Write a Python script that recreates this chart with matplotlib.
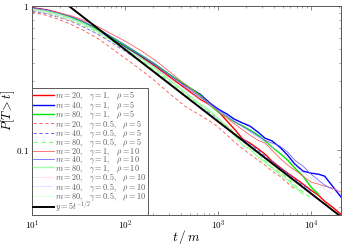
import matplotlib
matplotlib.use("Agg")
import matplotlib.pyplot as plt
from matplotlib.ticker import LogLocator, NullFormatter

matplotlib.rcParams.update({
    'mathtext.fontset': 'cm',
    'font.family': 'serif',
    'font.serif': ['cmr10', 'DejaVu Serif'],
    'axes.formatter.use_mathtext': True,
})

# ── data: survival P[T > t] ──
t_grid = [10, 14, 19, 26, 36, 50, 69, 100, 145, 210, 305, 440, 640, 820, 1000,
          1250, 1500, 1850, 2200, 2700, 3200, 3800, 4600, 5600, 6700, 8200,
          10000, 12000, 14000, 17000, 21000]

# gamma = 1, rho = 5
p_m20_g1_r5 = [0.976, 0.945, 0.901, 0.845, 0.774, 0.692, 0.609, 0.523, 0.450, 0.383,
               0.321, 0.270, 0.226, 0.206, 0.187, 0.159, 0.140, 0.119, 0.112, 0.102,
               0.0938, 0.0839, 0.0762, 0.0692, 0.0639, 0.0581, 0.0527, 0.0487,
               0.0442, 0.0402, 0.0359]
p_m40_g1_r5 = [0.968, 0.938, 0.894, 0.839, 0.768, 0.687, 0.609, 0.527, 0.457, 0.393,
               0.332, 0.283, 0.245, 0.212, 0.193, 0.178, 0.164, 0.154, 0.147, 0.133,
               0.121, 0.116, 0.105, 0.0923, 0.0799, 0.0715, 0.0692, 0.0681, 0.0660,
               0.0562, 0.0472]
p_m80_g1_r5 = [0.960, 0.931, 0.887, 0.839, 0.768, 0.692, 0.614, 0.532, 0.461, 0.396,
               0.332, 0.287, 0.241, 0.206, 0.184, 0.170, 0.157, 0.147, 0.138, 0.127,
               0.116, 0.105, 0.0953, 0.0852, 0.0750, 0.0660, 0.0554, 0.0495]
# gamma = 0.5, rho = 5
p_m20_g05_r5 = [0.908, 0.866, 0.812, 0.750, 0.676, 0.600, 0.519, 0.435, 0.365, 0.302,
                0.245, 0.202, 0.175, 0.159, 0.145, 0.127, 0.114, 0.102, 0.0938, 0.0852,
                0.0787, 0.0715, 0.0660, 0.0590, 0.0536]
p_m40_g05_r5 = [0.923, 0.887, 0.839, 0.787, 0.715, 0.644, 0.567, 0.487, 0.415, 0.348,
                0.287, 0.237, 0.199, 0.181, 0.164, 0.147, 0.131, 0.119, 0.110, 0.100,
                0.0908, 0.0839, 0.0762, 0.0692, 0.0629, 0.0572, 0.0519]
p_m80_g05_r5 = [0.938, 0.901, 0.852, 0.799, 0.732, 0.660, 0.581, 0.499, 0.425, 0.356,
                0.297, 0.245, 0.206, 0.184, 0.167, 0.147, 0.131, 0.117, 0.105, 0.0953,
                0.0839, 0.0762, 0.0703, 0.0639, 0.0572, 0.0511, 0.0464]
# gamma = 1, rho = 10
p_m20_g1_r10 = [0.968, 0.938, 0.901, 0.859, 0.799, 0.726, 0.649, 0.572, 0.495, 0.422,
                0.348, 0.287, 0.237, 0.209, 0.187, 0.167, 0.152, 0.138, 0.127, 0.117,
                0.112, 0.100, 0.0880, 0.0787, 0.0726, 0.0660, 0.0600, 0.0581, 0.0562,
                0.0545, 0.0511]
p_m40_g1_r10 = [0.968, 0.938, 0.894, 0.845, 0.780, 0.703, 0.624, 0.540, 0.464, 0.396,
                0.332, 0.278, 0.234, 0.209, 0.190, 0.172, 0.159, 0.145, 0.136, 0.125,
                0.117, 0.112, 0.107, 0.0968, 0.0852, 0.0774, 0.0681, 0.0619, 0.0572,
                0.0536]
p_m80_g1_r10 = [0.953, 0.923, 0.880, 0.825, 0.756, 0.676, 0.595, 0.511, 0.439, 0.371,
                0.306, 0.253, 0.209, 0.187, 0.167, 0.145, 0.127, 0.108, 0.102, 0.0894,
                0.0825, 0.0750, 0.0681, 0.0619, 0.0554, 0.0495]
# gamma = 0.5, rho = 10
p_m20_g05_r10 = [0.931, 0.894, 0.845, 0.787, 0.715, 0.639, 0.562, 0.479, 0.409, 0.343,
                 0.283, 0.234, 0.196, 0.178, 0.162, 0.145, 0.129, 0.117, 0.107, 0.0968,
                 0.0880, 0.0799, 0.0726, 0.0660, 0.0600, 0.0545, 0.0495, 0.0457, 0.0422]
p_m40_g05_r10 = [0.945, 0.908, 0.866, 0.812, 0.744, 0.670, 0.590, 0.511, 0.442, 0.377,
                 0.316, 0.265, 0.226, 0.206, 0.187, 0.170, 0.157, 0.145, 0.133, 0.123,
                 0.114, 0.105, 0.0968, 0.0880, 0.0787, 0.0703, 0.0639, 0.0590, 0.0536,
                 0.0495]
p_m80_g05_r10 = [0.945, 0.908, 0.859, 0.806, 0.738, 0.660, 0.581, 0.495, 0.422, 0.354,
                 0.292, 0.241, 0.202, 0.181, 0.164, 0.145, 0.129, 0.116, 0.105, 0.0953,
                 0.0866, 0.0787, 0.0715, 0.0649, 0.0590]

# reference power law y = 5 t^{-1/2}
fit_t = [10, 21000]
fit_y = [1.581, 0.0345]

sp = r'\;\;\;'
series = [
    (p_m20_g1_r5, '$m=20,' + sp + r'\gamma=1,' + sp + r'\rho=5$', '#ff0000', '-', 1.0),
    (p_m40_g1_r5, '$m=40,' + sp + r'\gamma=1,' + sp + r'\rho=5$', '#0000ff', '-', 1.0),
    (p_m80_g1_r5, '$m=80,' + sp + r'\gamma=1,' + sp + r'\rho=5$', '#00e600', '-', 1.0),
    (p_m20_g05_r5, '$m=20,' + sp + r'\gamma=0.5,' + sp + r'\rho=5$', '#ff5050', (0, (4, 3)), 0.6),
    (p_m40_g05_r5, '$m=40,' + sp + r'\gamma=0.5,' + sp + r'\rho=5$', '#5050ff', (0, (4, 3)), 0.6),
    (p_m80_g05_r5, '$m=80,' + sp + r'\gamma=0.5,' + sp + r'\rho=5$', '#70ff70', (0, (4, 3)), 0.8),
    (p_m20_g1_r10, '$m=20,' + sp + r'\gamma=1,' + sp + r'\rho=10$', '#ff6060', '-', 0.6),
    (p_m40_g1_r10, '$m=40,' + sp + r'\gamma=1,' + sp + r'\rho=10$', '#6a6aff', '-', 0.6),
    (p_m80_g1_r10, '$m=80,' + sp + r'\gamma=1,' + sp + r'\rho=10$', '#a0ffa0', '-', 1.0),
    (p_m20_g05_r10, '$m=20,' + sp + r'\gamma=0.5,' + sp + r'\rho=10$', '#ffb0c8', (0, (1, 1.5)), 0.6),
    (p_m40_g05_r10, '$m=40,' + sp + r'\gamma=0.5,' + sp + r'\rho=10$', '#b8b0ff', (0, (1, 1.5)), 0.6),
    (p_m80_g05_r10, '$m=80,' + sp + r'\gamma=0.5,' + sp + r'\rho=10$', '#b8ffb8', (0, (1, 1.5)), 0.6),
]

fig = plt.figure(figsize=(3.48, 2.45), dpi=100)
ax = fig.add_axes([0.092, 0.122, 0.888, 0.853])

for y, lab, col, ls, lw in series:
    ax.plot(t_grid[:len(y)], y, color=col, linestyle=ls, linewidth=lw, label=lab)
ax.plot(fit_t, fit_y, color='black', linewidth=1.4, label=r'$y=5t^{-1/2}$')

ax.set_xscale('log')
ax.set_yscale('log')
ax.set_xlim(10, 21000)
ax.set_ylim(0.0354, 1)

ax.set_yticks([0.1, 1])
ax.set_yticklabels([r'$0.1$', r'$1$'])
ax.yaxis.set_minor_locator(LogLocator(base=10, subs=range(2, 10)))
ax.yaxis.set_minor_formatter(NullFormatter())
ax.xaxis.set_minor_formatter(NullFormatter())
ax.tick_params(which='both', direction='in', top=True, right=True,
               labelsize=6.5, color='0.35', pad=2.5)
ax.tick_params(which='major', length=3, width=0.5)
ax.tick_params(which='minor', length=1.6, width=0.4)
for s in ax.spines.values():
    s.set_color('0.35')
    s.set_linewidth(0.7)

ax.set_xlabel(r'$t\,/\,m$', fontsize=9.5, labelpad=-3)
ax.set_ylabel(r'$P[T>t]$', fontsize=9)
ax.yaxis.set_label_coords(-0.05, 0.5)

leg = ax.legend(loc='lower left', fontsize=5.9, frameon=True, fancybox=False,
                borderaxespad=0, handlelength=2.5, handletextpad=0.2,
                labelspacing=-0.40, borderpad=0.15, framealpha=1)
leg.get_frame().set_edgecolor('0.35')
leg.get_frame().set_linewidth(0.7)
for txt in leg.get_texts():
    txt.set_color('0.35')

fig.savefig('out.png', dpi=100)
